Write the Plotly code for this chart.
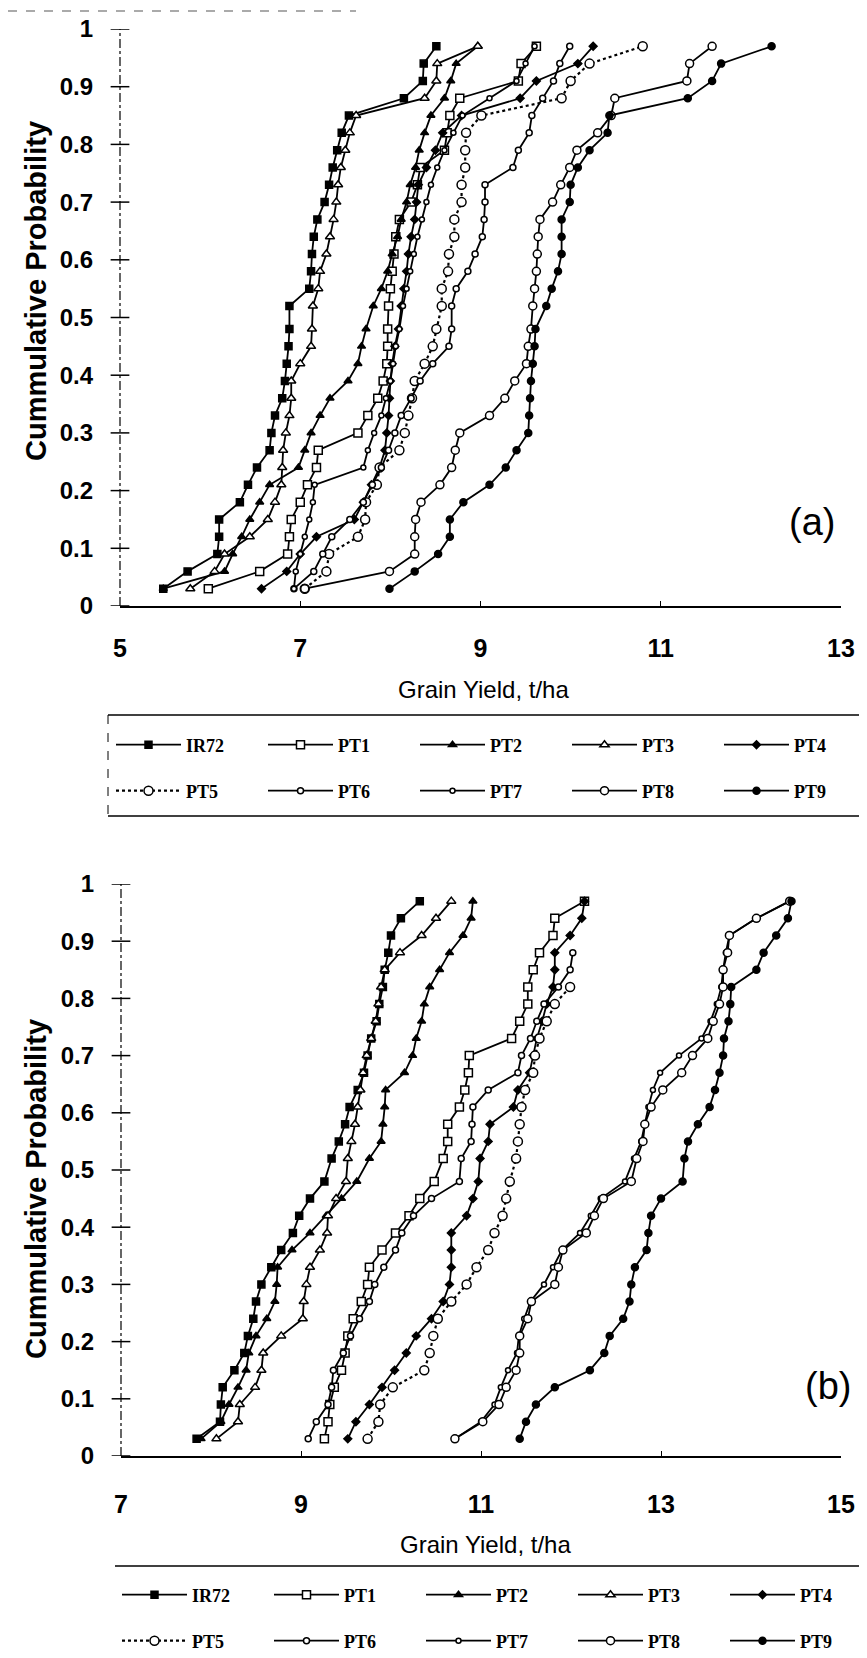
import plotly.graph_objects as go

# ---------------- data ----------------
cum_prob = [0.03, 0.06, 0.09, 0.12, 0.15, 0.18, 0.21, 0.24, 0.27, 0.30, 0.33, 0.36,
            0.39, 0.42, 0.45, 0.48, 0.52, 0.55, 0.58, 0.61, 0.64, 0.67, 0.70, 0.73,
            0.76, 0.79, 0.82, 0.85, 0.88, 0.91, 0.94, 0.97]

variety_names = ["IR72", "PT1", "PT2", "PT3", "PT4", "PT5", "PT6", "PT7", "PT8", "PT9"]

# panel (a) grain yield, t/ha
a_ir72 = [5.48, 5.75, 6.08, 6.10, 6.10, 6.33, 6.42, 6.52, 6.66, 6.68, 6.72, 6.80, 6.83, 6.85, 6.87, 6.88,
          6.88, 7.10, 7.12, 7.13, 7.15, 7.19, 7.27, 7.32, 7.36, 7.41, 7.46, 7.54, 8.15, 8.36, 8.37, 8.51]
a_pt1 = [5.98, 6.55, 6.86, 6.88, 6.90, 7.00, 7.08, 7.18, 7.20, 7.64, 7.75, 7.86, 7.92, 7.96, 7.97, 7.97,
         7.98, 8.00, 8.02, 8.04, 8.06, 8.10, 8.23, 8.30, 8.33, 8.60, 8.63, 8.66, 8.77, 9.42, 9.45, 9.62]
a_pt2 = [5.48, 6.16, 6.25, 6.35, 6.44, 6.55, 6.66, 6.98, 7.05, 7.12, 7.22, 7.33, 7.53, 7.64, 7.68, 7.73,
         7.81, 7.90, 7.97, 8.02, 8.08, 8.12, 8.18, 8.22, 8.28, 8.32, 8.38, 8.45, 8.60, 8.67, 8.73, 8.97]
a_pt3 = [5.78, 6.05, 6.16, 6.44, 6.64, 6.72, 6.79, 6.80, 6.81, 6.84, 6.88, 6.90, 6.90, 7.00, 7.12, 7.13,
         7.14, 7.20, 7.22, 7.29, 7.33, 7.37, 7.40, 7.42, 7.45, 7.50, 7.55, 7.62, 8.38, 8.51, 8.52, 8.97]
a_pt4 = [6.57, 6.85, 7.00, 7.18, 7.60, 7.70, 7.79, 7.88, 7.94, 7.96, 7.98, 7.99, 8.00, 8.02, 8.05, 8.09,
         8.12, 8.15, 8.18, 8.20, 8.23, 8.27, 8.29, 8.31, 8.40, 8.50, 8.58, 8.79, 9.44, 9.62, 10.08, 10.25]
a_pt5 = [7.05, 7.29, 7.32, 7.64, 7.72, 7.73, 7.85, 7.88, 8.10, 8.16, 8.20, 8.24, 8.27, 8.38, 8.47, 8.51,
         8.57, 8.57, 8.64, 8.65, 8.71, 8.71, 8.79, 8.79, 8.83, 8.83, 8.84, 9.01, 9.90, 10.00, 10.21, 10.80]
a_pt6 = [6.93, 7.15, 7.25, 7.35, 7.55, 7.70, 7.80, 7.90, 7.98, 8.05, 8.12, 8.23, 8.33, 8.47, 8.65, 8.68,
         8.68, 8.73, 8.86, 8.94, 9.02, 9.04, 9.05, 9.05, 9.36, 9.42, 9.54, 9.57, 9.69, 9.81, 9.88, 9.99]
a_pt7 = [6.93, 6.95, 7.00, 7.05, 7.10, 7.14, 7.16, 7.70, 7.75, 7.82, 7.90, 7.95, 8.00, 8.03, 8.06, 8.10,
         8.14, 8.18, 8.22, 8.26, 8.30, 8.35, 8.40, 8.45, 8.52, 8.60, 8.70, 8.80, 9.10, 9.40, 9.50, 9.60]
a_pt8 = [7.05, 7.99, 8.27, 8.27, 8.28, 8.34, 8.55, 8.68, 8.72, 8.77, 9.10, 9.27, 9.38, 9.51, 9.53, 9.56,
         9.58, 9.60, 9.62, 9.63, 9.64, 9.66, 9.80, 9.89, 9.99, 10.07, 10.30, 10.45, 10.49, 11.29, 11.32, 11.57]
a_pt9 = [7.99, 8.27, 8.53, 8.66, 8.66, 8.81, 9.10, 9.28, 9.40, 9.53, 9.54, 9.55, 9.56, 9.58, 9.60, 9.61,
         9.73, 9.79, 9.86, 9.90, 9.90, 9.90, 9.99, 10.00, 10.08, 10.21, 10.41, 10.43, 11.30, 11.57, 11.67, 12.23]

# panel (b) grain yield, t/ha
b_ir72 = [7.84, 8.10, 8.11, 8.13, 8.26, 8.37, 8.41, 8.47, 8.50, 8.56, 8.67, 8.78, 8.91, 8.98, 9.10, 9.26,
          9.34, 9.42, 9.49, 9.54, 9.63, 9.70, 9.74, 9.78, 9.84, 9.87, 9.91, 9.93, 9.97, 10.00, 10.11, 10.32]
b_pt1 = [9.26, 9.30, 9.32, 9.37, 9.45, 9.49, 9.52, 9.58, 9.67, 9.74, 9.76, 9.90, 10.05, 10.20, 10.32, 10.48,
         10.58, 10.63, 10.63, 10.76, 10.82, 10.86, 10.87, 11.34, 11.43, 11.52, 11.52, 11.58, 11.65, 11.80, 11.82, 12.15]
b_pt2 = [7.89, 8.11, 8.20, 8.30, 8.39, 8.42, 8.50, 8.62, 8.71, 8.73, 8.74, 8.90, 9.10, 9.28, 9.45, 9.62,
         9.76, 9.89, 9.91, 9.93, 9.94, 10.15, 10.24, 10.28, 10.34, 10.37, 10.43, 10.54, 10.65, 10.80, 10.89, 10.91]
b_pt3 = [8.06, 8.30, 8.32, 8.49, 8.56, 8.58, 8.78, 9.02, 9.03, 9.06, 9.10, 9.21, 9.29, 9.30, 9.39, 9.50,
         9.52, 9.56, 9.60, 9.63, 9.66, 9.69, 9.73, 9.78, 9.83, 9.86, 9.89, 9.93, 10.10, 10.34, 10.50, 10.67]
b_pt4 = [9.52, 9.61, 9.76, 9.90, 10.04, 10.17, 10.28, 10.45, 10.58, 10.65, 10.67, 10.67, 10.67, 10.84, 10.91, 10.97,
         10.99, 11.08, 11.10, 11.36, 11.41, 11.54, 11.58, 11.62, 11.68, 11.73, 11.80, 11.82, 11.82, 11.99, 12.12, 12.15]
b_pt5 = [9.74, 9.86, 9.88, 10.02, 10.37, 10.43, 10.47, 10.52, 10.67, 10.84, 10.95, 11.08, 11.15, 11.24, 11.28, 11.32,
         11.39, 11.41, 11.43, 11.45, 11.49, 11.58, 11.60, 11.65, 11.73, 11.82, 11.99]
b_pt6 = [9.08, 9.17, 9.30, 9.34, 9.36, 9.47, 9.55, 9.65, 9.76, 9.82, 9.92, 10.05, 10.12, 10.25, 10.45, 10.76,
         10.78, 10.89, 10.90, 10.91, 11.08, 11.41, 11.45, 11.55, 11.62, 11.70, 11.86, 11.99, 12.02]
b_pt7 = [10.71, 11.00, 11.15, 11.22, 11.30, 11.40, 11.42, 11.48, 11.55, 11.70, 11.80, 11.90, 12.10, 12.22, 12.33, 12.60,
         12.70, 12.78, 12.82, 12.86, 12.91, 12.99, 13.20, 13.45, 13.55, 13.62, 13.67, 13.69, 13.72, 13.76, 14.06, 14.43]
b_pt8 = [10.71, 11.02, 11.20, 11.28, 11.39, 11.43, 11.43, 11.52, 11.56, 11.82, 11.86, 11.91, 12.17, 12.26, 12.36, 12.67,
         12.73, 12.80, 12.82, 12.89, 13.02, 13.23, 13.35, 13.52, 13.58, 13.65, 13.69, 13.69, 13.74, 13.76, 14.06, 14.43]
b_pt9 = [11.43, 11.50, 11.61, 11.82, 12.21, 12.37, 12.43, 12.58, 12.65, 12.67, 12.71, 12.84, 12.86, 12.89, 13.00, 13.24,
         13.26, 13.30, 13.41, 13.54, 13.60, 13.65, 13.69, 13.70, 13.75, 13.77, 13.78, 14.06, 14.14, 14.28, 14.41, 14.45]

y_tick_values = [0, 0.1, 0.2, 0.3, 0.4, 0.5, 0.6, 0.7, 0.8, 0.9, 1]
a_x_ticks = [5, 7, 9, 11, 13]
b_x_ticks = [7, 9, 11, 13, 15]

panel_a = [a_ir72, a_pt1, a_pt2, a_pt3, a_pt4, a_pt5, a_pt6, a_pt7, a_pt8, a_pt9]
panel_b = [b_ir72, b_pt1, b_pt2, b_pt3, b_pt4, b_pt5, b_pt6, b_pt7, b_pt8, b_pt9]

# ---------------- styles ----------------
W, H = 867, 1658
def px(x):
    return x / W
def py(y):
    return 1 - y / H

marker_style = {
    "IR72": ("square", "black", 7, "solid"),
    "PT1": ("square", "white", 8, "solid"),
    "PT2": ("triangle-up", "black", 7, "solid"),
    "PT3": ("triangle-up", "white", 8, "solid"),
    "PT4": ("diamond", "black", 6, "solid"),
    "PT5": ("circle", "white", 9, "dot"),
    "PT6": ("circle", "white", 6, "solid"),
    "PT7": ("circle", "white", 5, "solid"),
    "PT8": ("circle", "white", 8, "solid"),
    "PT9": ("circle", "black", 7, "solid"),
}

fig = go.Figure()

def add_panel(series_list, xa, ya, legend_row1, legend_row2):
    for k, (name, vals) in enumerate(zip(variety_names, series_list)):
        sym, fill, size, dash = marker_style[name]
        fig.add_trace(go.Scatter(
            x=vals, y=cum_prob[:len(vals)], name=name, mode="lines+markers",
            xaxis=xa, yaxis=ya,
            legend=legend_row1 if k < 5 else legend_row2,
            line=dict(color="black", width=1.8 if dash == "solid" else 2.2, dash=dash),
            marker=dict(symbol=sym, size=size, color=fill, line=dict(color="black", width=1.5)),
        ))

add_panel(panel_a, "x", "y", "legend", "legend2")
add_panel(panel_b, "x2", "y2", "legend3", "legend4")

xtick_font = dict(family="Liberation Sans, Arial, sans-serif", size=25, color="black", weight=700)
ytick_font = dict(family="Liberation Sans, Arial, sans-serif", size=24, color="black", weight=700)

a_dom_x = [px(112), px(833)]
a_dom_y = [py(598), py(21)]
b_dom_x = [px(113), px(833)]
b_dom_y = [py(1448), py(876)]

def xaxis_cfg(dom, rng, ticks, standoff):
    return dict(domain=dom, range=rng, tickvals=ticks, ticks="inside", ticklen=5, tickwidth=1.2,
                tickcolor="black", showline=True, linecolor="black", linewidth=2, showgrid=False,
                zeroline=False, tickfont=xtick_font, ticklabelstandoff=standoff, fixedrange=True)

def yaxis_cfg(dom):
    return dict(domain=dom, range=[0, 1], tickvals=y_tick_values, ticks="", showline=False,
                showgrid=False, zeroline=False, tickfont=ytick_font, ticklabelstandoff=26,
                fixedrange=True)

fig.update_layout(
    width=W, height=H, margin=dict(l=0, r=0, t=0, b=0, autoexpand=False),
    paper_bgcolor="white", plot_bgcolor="white",
    xaxis=dict(xaxis_cfg(a_dom_x, [5, 13], a_x_ticks, 19), anchor="y"),
    yaxis=dict(yaxis_cfg(a_dom_y), anchor="x"),
    xaxis2=dict(xaxis_cfg(b_dom_x, [7, 15], b_x_ticks, 25), anchor="y2"),
    yaxis2=dict(yaxis_cfg(b_dom_y), anchor="x2"),
)

legend_font = dict(family="Liberation Serif, Times New Roman, serif", size=18, color="black", weight=700)
def legend_cfg(x, y):
    return dict(orientation="h", x=x, y=y, xanchor="left", yanchor="middle",
                entrywidth=72, entrywidthmode="pixels", itemwidth=65,
                font=legend_font, bgcolor="rgba(0,0,0,0)", borderwidth=0,
                itemclick=False, itemdoubleclick=False, tracegroupgap=0)

fig.update_layout(
    legend=legend_cfg(px(103), py(737)),
    legend2=legend_cfg(px(103), py(783)),
    legend3=legend_cfg(px(109), py(1587)),
    legend4=legend_cfg(px(109), py(1633)),
)

shapes = []
# dashed y axes and crossing ticks
for xr, yr in (("x", "y"), ("x2", "y2")):
    shapes.append(dict(type="line", xref=f"{xr} domain", yref=yr, x0=0, x1=0, y0=0, y1=1,
                       line=dict(color="black", width=1.2, dash="dashdot")))
    for v in y_tick_values:
        shapes.append(dict(type="line", xref=f"{xr} domain", yref=yr, x0=-0.013, x1=0.013,
                           y0=v, y1=v, line=dict(color="black", width=1.5)))
# legend frame lines
shapes.append(dict(type="line", xref="paper", yref="paper", x0=px(100), x1=1, y0=py(707), y1=py(707),
                   line=dict(color="black", width=1.5)))
shapes.append(dict(type="line", xref="paper", yref="paper", x0=px(100), x1=1, y0=py(808), y1=py(808),
                   line=dict(color="black", width=1.5)))
shapes.append(dict(type="line", xref="paper", yref="paper", x0=px(100), x1=px(100), y0=py(707), y1=py(808),
                   line=dict(color="black", width=1, dash="dash")))
shapes.append(dict(type="line", xref="paper", yref="paper", x0=px(107), x1=1, y0=py(1558), y1=py(1558),
                   line=dict(color="black", width=1.5)))
# faint scan line at the top
shapes.append(dict(type="line", xref="paper", yref="paper", x0=0, x1=px(348), y0=py(3), y1=py(3),
                   line=dict(color="#aaaaaa", width=2, dash="dash")))
fig.update_layout(shapes=shapes)

title_font = dict(family="Liberation Sans, Arial, sans-serif", size=29, color="black", weight=700)
xt_font = dict(family="Liberation Sans, Arial, sans-serif", size=24, color="black")
annotations = [
    dict(text="Cummulative Probability", xref="paper", yref="paper", x=px(28), y=py(283),
         textangle=-90, showarrow=False, font=title_font, xanchor="center", yanchor="middle"),
    dict(text="Cummulative Probability", xref="paper", yref="paper", x=px(28), y=py(1181),
         textangle=-90, showarrow=False, font=title_font, xanchor="center", yanchor="middle"),
    dict(text="Grain Yield, t/ha", xref="paper", yref="paper", x=px(475), y=py(681),
         showarrow=False, font=xt_font, xanchor="center", yanchor="middle"),
    dict(text="Grain Yield, t/ha", xref="paper", yref="paper", x=px(477), y=py(1536),
         showarrow=False, font=xt_font, xanchor="center", yanchor="middle"),
    dict(text="(a)", xref="paper", yref="paper", x=px(804), y=py(514), showarrow=False,
         font=dict(family="Liberation Sans, Arial, sans-serif", size=38, color="black"),
         xanchor="center", yanchor="middle"),
    dict(text="(b)", xref="paper", yref="paper", x=px(820), y=py(1378), showarrow=False,
         font=dict(family="Liberation Sans, Arial, sans-serif", size=38, color="black"),
         xanchor="center", yanchor="middle"),
]
fig.update_layout(annotations=annotations)

fig.write_html("out.html")
